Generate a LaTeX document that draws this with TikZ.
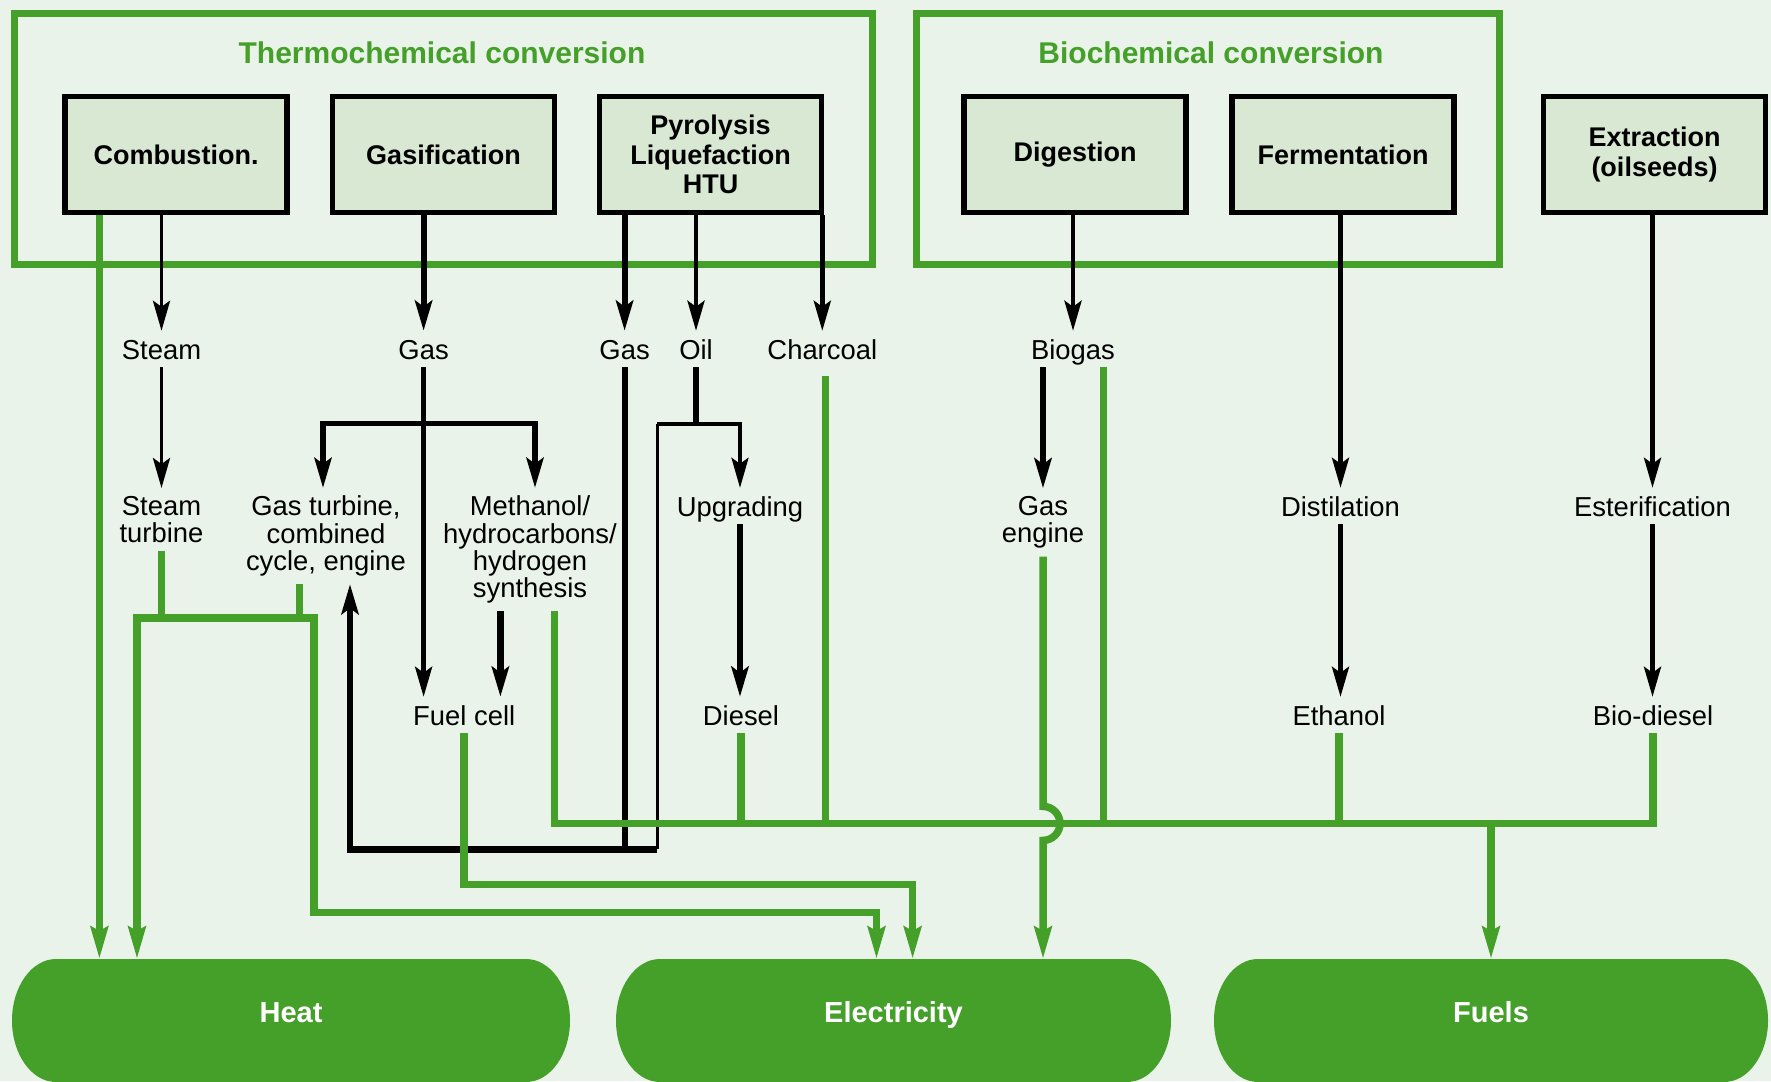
\documentclass[tikz,border=0pt]{standalone}
\usepackage{fontspec}
\setmainfont{Liberation Sans}
\usetikzlibrary{arrows.meta,backgrounds}
\definecolor{bgc}{HTML}{EAF3EA}
\definecolor{boxc}{HTML}{D8E8D3}
\definecolor{grc}{HTML}{45A02A}
\newcommand{\lblfont}{\fontsize{27.4}{27.1}\selectfont}
\newcommand{\boxfont}{\fontsize{27}{29.5}\selectfont\bfseries}
\newcommand{\pillfill}[1]{%
  \fill[grc] ([xshift=44pt]#1.north west) -- ([xshift=-44pt]#1.north east)
    arc[start angle=90,end angle=-90,x radius=44pt,y radius=61.5pt]
    -- ([xshift=44pt]#1.south west)
    arc[start angle=270,end angle=90,x radius=44pt,y radius=61.5pt] -- cycle;}
\begin{document}
\begin{tikzpicture}[x=1pt,y=-1pt,
  grp/.style={draw=grc,line width=7pt,inner sep=0pt,minimum height=250pt},
  proc/.style={draw=black,line width=5.5pt,fill=boxc,minimum width=222pt,minimum height=116pt,align=center,font=\boxfont,inner sep=0pt},
  ttl/.style={text=grc,font=\fontsize{30}{32}\selectfont\bfseries,inner sep=0pt},
  lbl/.style={font=\lblfont,inner xsep=2pt,inner ysep=8pt,text height=20pt,text depth=0pt},
  mlbl/.style={font=\lblfont,align=center,inner xsep=2pt,inner ysep=8pt},
  pill/.style={minimum height=123pt,inner sep=0pt,outer sep=0pt,text=white,font=\fontsize{29}{30}\selectfont\bfseries,text height=21pt,text depth=17pt},
  bkl/.style={draw=black,line width=3.8pt},
  bkt/.style={draw=black,line width=6.2pt},
  bah/.style={-{Stealth[length=30pt,width=17pt,inset=6pt]}},
  gr/.style={draw=grc,line width=7.5pt},
  gah/.style={-{Stealth[length=32pt,width=17pt,inset=4pt]}}
]
\useasboundingbox (0,0) rectangle (1771,1081);
\begin{scope}[on background layer]
  \fill[bgc] (0,0) rectangle (1771,1081);
\end{scope}

% groups
\node[grp,minimum width=858pt] (thermo) at (443,139) {};
\node[grp,minimum width=583pt] (bio) at (1207.5,139) {};
\node[ttl] (thermoT) at (442,53) {Thermochemical conversion};
\node[ttl] (bioT) at (1211,53) {Biochemical conversion};

% process boxes
\node[proc] (comb) at (176,154.5) {Combustion.};
\node[proc] (gasif) at (443.5,154.5) {Gasification};
\node[proc] (pyro) at (710.5,154.5) {Pyrolysis\\Liquefaction\\HTU};
\node[proc] (dig) at (1075,154.5) {Digestion};
\node[proc] (ferm) at (1343,154.5) {Fermentation};
\node[proc] (extr) at (1654.5,154.5) {Extraction\\(oilseeds)};

% labels
\node[lbl] (steam) at (161.5,349) {Steam};
\node[lbl] (gasA) at (423.6,349) {Gas};
\node[lbl] (gasB) at (624.6,349) {Gas};
\node[lbl] (oil) at (696,349) {Oil};
\node[lbl] (charcoal) at (822.3,349) {Charcoal};
\node[lbl] (biogas) at (1073,349) {Biogas};
\node[mlbl] (sturb) at (161.5,519.5) {Steam\\turbine};
\node[mlbl] (gturb) at (326,536) {Gas turbine,\\combined\\cycle, engine};
\node[mlbl] (meth) at (530,549.5) {Methanol/\\hydrocarbons/\\hydrogen\\synthesis};
\node[lbl] (upgr) at (740,506) {Upgrading};
\node[mlbl] (geng) at (1043,522.5) {Gas\\engine};
\node[lbl] (distil) at (1340.5,506) {Distilation};
\node[lbl] (ester) at (1652.5,506) {Esterification};
\node[lbl] (fcell) at (464.2,715) {Fuel cell};
\node[lbl] (diesel) at (741,715) {Diesel};
\node[lbl] (ethanol) at (1339,715) {Ethanol};
\node[lbl] (biod) at (1653,715) {Bio-diesel};

% end products
\node[pill,minimum width=558pt] (heat) at (291,1020.5) {Heat};
\node[pill,minimum width=555pt] (elec) at (893.5,1020.5) {Electricity};
\node[pill,minimum width=554pt] (fuels) at (1491,1020.5) {Fuels};
\begin{scope}[on background layer]
  \pillfill{heat}
  \pillfill{elec}
  \pillfill{fuels}
\end{scope}

% helper coordinates
\coordinate (gbr) at (423.6,423.6);
\coordinate (oilbr) at (696,423.6);
\coordinate (oilL) at (657.4,423.6);
\coordinate (loopR) at (657.4,849.4);
\coordinate (loopL) at (350,849.4);
\coordinate (hL) at (137,618);
\coordinate (hR) at (314,618);
\coordinate (hE) at (314,912.6);
\coordinate (fE) at (464.2,884.4);
\coordinate (busL) at (554.6,823.4);
\coordinate (hopT) at (1043,806.4);

% black connectors
\draw[bkl,bah] (comb.south -| steam) -- (steam.north);
\draw[bkl,bah] (steam.south) -- (steam.south |- sturb.north);
\draw[bkt,bah] (gasif.south -| gasA) -- (gasA.north);
\draw[bkl,line width=4.5pt,bah] (gasA.south) -- (gasA.south |- fcell.north);
\draw[bkl,line width=5.5pt,bah] (gbr) -| ([xshift=-3pt]gturb.north);
\draw[bkl,line width=5.5pt,bah] (gbr) -| ([xshift=5pt]meth.north);
\draw[bkt,bah] ([xshift=-29.6pt]meth.south) -- ([xshift=-29.6pt]meth.south |- fcell.north);
\draw[bkt,bah] (pyro.south -| gasB) -- (gasB.north);
\draw[bkl,line width=4.5pt,bah] (pyro.south -| oil) -- (oil.north);
\draw[bkl,line width=4.5pt,bah] (pyro.south -| charcoal) -- (charcoal.north);
\draw[bkt] (gasB.south) -- (gasB.south |- loopL);
\draw[bkt] (oil.south) -- (oilbr);
\draw[bkl,bah] (oilL) -- (oilbr) -| (upgr.north);
\draw[bkl] (oilL) -- (loopR);
\draw[bkt,bah] (loopR) -- (loopL) -- ([xshift=24pt]gturb.south);
\draw[bkt,bah] (upgr.south) -- (upgr.south |- diesel.north);
\draw[bkl,line width=4.5pt,bah] (dig.south -| biogas) -- (biogas.north);
\draw[bkt,bah] (biogas.south -| geng) -- (geng.north);
\draw[bkl,line width=4.5pt,bah] (ferm.south -| distil) -- (distil.north);
\draw[bkl,line width=4.5pt,bah] (distil.south) -- (distil.south |- ethanol.north);
\draw[bkl,line width=4.5pt,bah] (extr.south -| ester) -- (ester.north);
\draw[bkl,line width=4.5pt,bah] (ester.south) -- (ester.south |- biod.north);

% green connectors
\draw[gr,gah] ([xshift=-76.6pt]comb.south) -- ([xshift=-76.6pt]comb.south |- heat.north);
\draw[gr] (sturb.south) -- (sturb.south |- hL);
\draw[gr] ([xshift=-26.7pt]gturb.south) -- ([xshift=-26.7pt]gturb.south |- hR);
\draw[gr,gah] (hR) -- (hL) -- (hL |- heat.north);
\draw[gr,gah] (hL) -- (hR) -- (hE) -| ([xshift=-17pt]elec.north);
\draw[gr,gah] (fcell.south) -- (fE) -| ([xshift=19.1pt]elec.north);
\draw[gr] ([xshift=24.6pt]meth.south) -- (busL) -- (busL -| biod.south) -- (biod.south);
\draw[gr] (diesel.south) -- (diesel.south |- busL);
\draw[gr] ([xshift=3pt,yshift=-9pt]charcoal.south) -- ([xshift=3pt]charcoal.south |- busL);
\draw[gr] ([xshift=30.5pt]biogas.south) -- ([xshift=30.5pt]biogas.south |- busL);
\draw[gr] (ethanol.south) -- (ethanol.south |- busL);
\draw[gr,gah] (fuels.north |- busL) -- (fuels.north);
\draw[gr,gah] (geng.south) -- (hopT) arc[start angle=90,end angle=-90,radius=17pt] -- (geng.south |- elec.north);
\end{tikzpicture}
\end{document}
